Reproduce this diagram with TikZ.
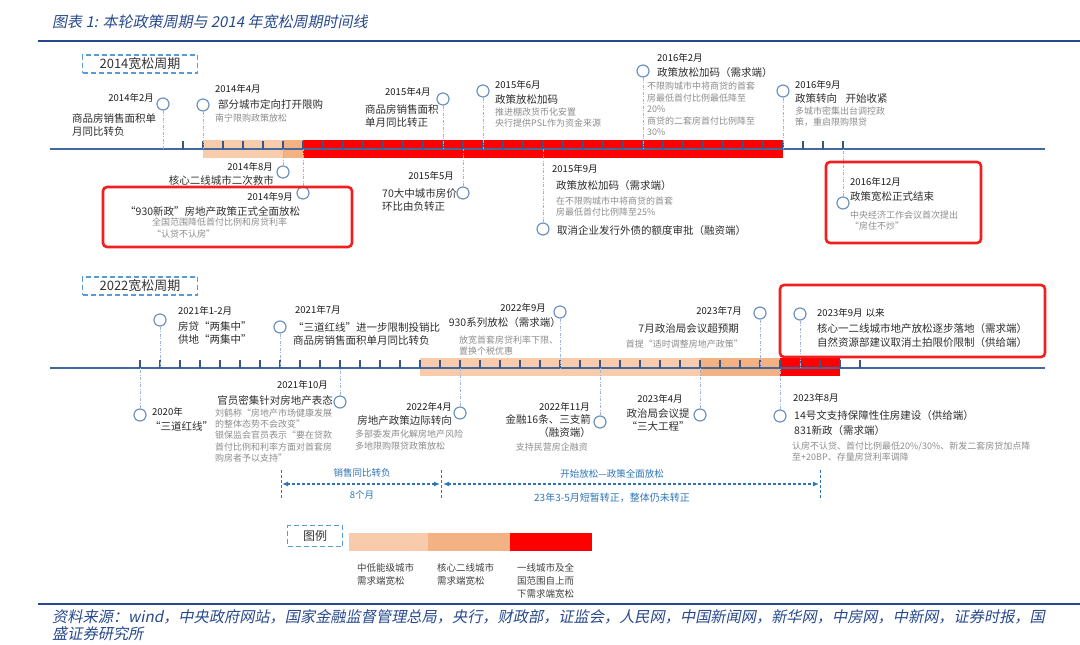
\documentclass[tikz,border=0pt]{standalone}
\usepackage{fontspec}
\setmainfont{Noto Sans CJK SC}
\newfontfamily\slantfont[FakeSlant=0.2]{Noto Sans CJK SC}
\usetikzlibrary{arrows.meta}

\definecolor{titleblue}{HTML}{27498C}
\definecolor{tlblue}{HTML}{41689F}
\definecolor{evtblue}{HTML}{6F93C0}
\definecolor{linkblue}{HTML}{9DB5D8}
\definecolor{boxblue}{HTML}{5B9BD5}
\definecolor{arrblue}{HTML}{2E75B6}
\definecolor{subgray}{HTML}{8C8C8C}
\definecolor{lowpeach}{HTML}{F8CBAD}
\definecolor{midpeach}{HTML}{F4B183}
\definecolor{hotfill}{HTML}{FF0000}
\definecolor{hotred}{HTML}{F02020}

\tikzset{
  evt/.style={circle, draw=evtblue, fill=white, line width=1.2pt, minimum size=12pt, inner sep=0pt},
  stem/.style={draw=linkblue, line width=0.8pt, dash pattern=on 3pt off 1.5pt on 1pt off 1.5pt},
  timeline/.style={draw=tlblue, line width=1.4pt},
  tickmark/.style={draw=tlblue!85!black, line width=1.3pt},
  datetxt/.style={inner sep=0pt, text=black!90, font=\fontsize{9.5}{11}\selectfont},
  bodytxt/.style={inner sep=0pt, text=black!82, align=left, font=\fontsize{10.5}{13}\selectfont},
  subtxt/.style={inner sep=0pt, text=subgray, align=left, font=\fontsize{9}{11.3}\selectfont},
  hotbox/.style={draw=hotred, line width=2.6pt, rounded corners=4pt},
  cyclebox/.style={draw=boxblue, line width=1.6pt, dash pattern=on 5pt off 3pt, minimum width=115pt, minimum height=18pt, inner sep=0pt, text=black!80, font=\fontsize{13}{15}\selectfont},
  spanarrow/.style={draw=arrblue, line width=1.4pt, dash pattern=on 3pt off 2pt, {Latex[length=6pt,width=5pt]}-{Latex[length=6pt,width=5pt]}},
  spanedge/.style={draw=arrblue, line width=1pt, dash pattern=on 3pt off 2pt},
  spantxt/.style={inner sep=0pt, text=arrblue, font=\fontsize{9.5}{11}\selectfont},
  legtxt/.style={inner sep=0pt, text=black!75, align=left, font=\fontsize{9.5}{12.8}\selectfont},
  titletxt/.style={inner sep=0pt, text=titleblue, font=\slantfont\fontsize{15}{18}\selectfont},
  foottxt/.style={inner sep=0pt, text=titleblue, align=left, font=\slantfont\fontsize{15.2}{17}\selectfont}
}

\begin{document}
\begin{tikzpicture}[x=1pt, y=-1pt]
\useasboundingbox (0,0) rectangle (1080,645);

% Title
\node[titletxt, anchor=west] (title) at (52,22) {图表 1: 本轮政策周期与 2014 年宽松周期时间线};
\draw[titleblue, line width=1.8pt] (38,41) -- (1080,41);

% ===== 2014 cycle =====
\node[cyclebox] (cyc14) at (140,64) {2014宽松周期};

% Bands and axis
\fill[lowpeach] (203,140) rectangle (283,158);
\fill[midpeach] (283,140) rectangle (303,158);
\fill[hotfill] (303,140) rectangle (783,158);
\coordinate (ax14) at (50,149);
\draw[timeline] (ax14) -- (1045,149);
\foreach \n in {3,...,36}
  \draw[tickmark] ({123+20*\n},149) -- ++(0,-8);

% Events
\node[evt] (feb14) at (163,104) {};
\node[evt] (apr14) at (203,105) {};
\node[evt] (aug14) at (283,172) {};
\node[evt] (sep14) at (303,193) {};
\node[evt] (apr15) at (443,99) {};
\node[evt] (may15) at (463,193) {};
\node[evt] (jun15) at (483,91) {};
\node[evt] (sep15) at (543,229) {};
\node[evt] (feb16) at (643,71) {};
\node[evt] (sep16) at (783,91) {};
\node[evt] (dec16) at (843,203) {};
\foreach \e in {feb14,apr14,aug14,sep14,apr15,may15,jun15,sep15,feb16,sep16,dec16}
  \draw[stem] (\e) -- (\e |- ax14);

% Texts
\node[datetxt, anchor=east] (feb14-date) at (154,98) {2014年2月};
\node[bodytxt, anchor=west] (feb14-text) at (72,124.5) {商品房销售面积单\\月同比转负};

\node[datetxt, anchor=west] (apr14-date) at (215,89) {2014年4月};
\node[bodytxt, anchor=west] (apr14-text) at (218,104) {部分城市定向打开限购};
\node[subtxt, anchor=west] (apr14-note) at (215,118) {南宁限购政策放松};

\node[datetxt, anchor=east] (aug14-date) at (273,167) {2014年8月};
\node[bodytxt, anchor=east] (aug14-text) at (274,180) {核心二线城市二次救市};

\node[datetxt, anchor=east] (sep14-date) at (293,197) {2014年9月};
\node[bodytxt, anchor=west] (sep14-text) at (125,211) {“930新政”房地产政策正式全面放松};
\node[subtxt, anchor=west] (sep14-note) at (152,228) {全国范围降低首付比例和房贷利率\\“认贷不认房”};
\draw[hotbox] (103,187) rectangle (352,247);

\node[datetxt, anchor=west] (apr15-date) at (385,92) {2015年4月};
\node[bodytxt, anchor=west] (apr15-text) at (365,115.5) {商品房销售面积\\单月同比转正};

\node[datetxt, anchor=east] (may15-date) at (454,176) {2015年5月};
\node[bodytxt, anchor=west] (may15-text) at (382,200) {70大中城市房价\\环比由负转正};

\node[datetxt, anchor=west] (jun15-date) at (495,85) {2015年6月};
\node[bodytxt, anchor=west] (jun15-text) at (495,99) {政策放松加码};
\node[subtxt, anchor=west] (jun15-note) at (495,117.5) {推进棚改货币化安置\\央行提供PSL作为资金来源};

\node[datetxt, anchor=west] (sep15-date) at (552,169) {2015年9月};
\node[bodytxt, anchor=west] (sep15-text) at (556,186) {政策放松加码（需求端）};
\node[subtxt, anchor=west] (sep15-note) at (556,206.5) {在不限购城市中将商贷的首套\\房最低首付比例降至25\%};
\node[bodytxt, anchor=west] (sep15-extra) at (557,231) {取消企业发行外债的额度审批（融资端）};

\node[datetxt, anchor=west] (feb16-date) at (657,58) {2016年2月};
\node[bodytxt, anchor=west] (feb16-text) at (657,73) {政策放松加码（需求端）};
\node[subtxt, anchor=west, font=\fontsize{9}{11.5}\selectfont] (feb16-note) at (647,109) {不限购城市中将商贷的首套\\房最低首付比例最低降至\\20\%\\商贷的二套房首付比例降至\\30\%};

\node[datetxt, anchor=west] (sep16-date) at (795,85) {2016年9月};
\node[bodytxt, anchor=west] (sep16-text) at (795,99) {政策转向\hspace{0.8em}开始收紧};
\node[subtxt, anchor=west] (sep16-note) at (795,116.5) {多城市密集出台调控政\\策，重启限购限贷};

\node[datetxt, anchor=west] (dec16-date) at (850,182) {2016年12月};
\node[bodytxt, anchor=west] (dec16-text) at (850,197) {政策宽松正式结束};
\node[subtxt, anchor=west] (dec16-note) at (850,220.5) {中央经济工作会议首次提出\\“房住不炒”};
\draw[hotbox] (826,162) rectangle (981,243);

% ===== 2022 cycle =====
\node[cyclebox] (cyc22) at (140,286) {2022宽松周期};

% Bands and axis
\fill[lowpeach] (420,358) rectangle (700,376);
\fill[midpeach] (700,358) rectangle (780,376);
\fill[hotfill] (780,358) rectangle (840,376);
\coordinate (ax22) at (50,368);
\draw[timeline] (ax22) -- (1045,368);
\foreach \k in {-1,...,35}
  \draw[tickmark] ({160+20*\k},368) -- ++(0,-8);

% Events
\node[evt] (y20) at (140,415) {};
\node[evt] (feb21) at (160,320) {};
\node[evt] (jul21) at (280,327) {};
\node[evt] (oct21) at (340,402) {};
\node[evt] (apr22) at (460,413) {};
\node[evt] (sep22) at (560,312) {};
\node[evt] (nov22) at (600,422) {};
\node[evt] (apr23) at (700,415) {};
\node[evt] (jul23) at (760,313) {};
\node[evt] (aug23) at (780,416) {};
\node[evt] (sep23) at (800,314) {};
\foreach \e in {y20,feb21,jul21,oct21,apr22,sep22,nov22,apr23,jul23,aug23,sep23}
  \draw[stem] (\e) -- (\e |- ax22);

% Texts
\node[datetxt, anchor=west] (y20-date) at (152,412) {2020年};
\node[bodytxt, anchor=west] (y20-text) at (150,426) {“三道红线”};

\node[datetxt, anchor=west] (feb21-date) at (178,311) {2021年1-2月};
\node[bodytxt, anchor=west] (feb21-text) at (178,332.5) {房贷“两集中”\\供地“两集中”};

\node[datetxt, anchor=west] (jul21-date) at (295,310) {2021年7月};
\node[bodytxt, anchor=west] (jul21-text) at (293,333.5) {“三道红线”进一步限制投销比\\商品房销售面积单月同比转负};

\node[datetxt, anchor=east] (oct21-date) at (328,385) {2021年10月};
\node[bodytxt, anchor=east] (oct21-text) at (333,400) {官员密集针对房地产表态};
\node[subtxt, anchor=west] (oct21-note) at (215,435.5) {刘鹤称“房地产市场健康发展\\的整体态势不会改变”\\银保监会官员表示“要在贷款\\首付比例和利率方面对首套房\\购房者予以支持”};

\node[datetxt, anchor=east] (apr22-date) at (452,407) {2022年4月};
\node[bodytxt, anchor=east] (apr22-text) at (452,421) {房地产政策边际转向};
\node[subtxt, anchor=west] (apr22-note) at (355,440) {多部委发声化解房地产风险\\多地限购限贷政策放松};

\node[datetxt, anchor=east] (sep22-date) at (546,308) {2022年9月};
\node[bodytxt, anchor=east] (sep22-text) at (561,323) {930系列放松（需求端）};
\node[subtxt, anchor=west] (sep22-note) at (459,345.5) {放宽首套房贷利率下限、\\置换个税优惠};

\node[datetxt, anchor=east] (nov22-date) at (590,407) {2022年11月};
\node[bodytxt, anchor=east, align=right] (nov22-text) at (591,426.5) {金融16条、三支箭\\（融资端）};
\node[subtxt, anchor=east] (nov22-note) at (588,447) {支持民营房企融资};

\node[datetxt] (apr23-date) at (660,399) {2023年4月};
\node[bodytxt, align=center, font=\fontsize{10.5}{13.5}\selectfont] (apr23-text) at (658,420) {政治局会议提\\“三大工程”};

\node[datetxt, anchor=east] (jul23-date) at (742,311) {2023年7月};
\node[bodytxt, anchor=east] (jul23-text) at (739,329) {7月政治局会议超预期};
\node[subtxt, anchor=east] (jul23-note) at (743,344) {首提“适时调整房地产政策”};

\node[datetxt, anchor=west] (aug23-date) at (793,398) {2023年8月};
\node[bodytxt, anchor=west, font=\fontsize{10.5}{15}\selectfont] (aug23-text) at (794,423.5) {14号文支持保障性住房建设（供给端）\\831新政（需求端）};
\node[subtxt, anchor=west] (aug23-note) at (792,451.5) {认房不认贷、首付比例最低20\%/30\%、新发二套房贷加点降\\至+20BP、存量房贷利率调降};

\node[datetxt, anchor=west] (sep23-date) at (817,313) {2023年9月\hspace{3pt}以来};
\node[bodytxt, anchor=west, font=\fontsize{10.5}{14}\selectfont] (sep23-text) at (817,336) {核心一二线城市地产放松逐步落地（需求端）\\自然资源部建议取消土拍限价限制（供给端）};
\draw[hotbox] (780,285) rectangle (1045,357);

% Spans below the 2022 axis
\coordinate (cut1a) at (281,470); \coordinate (cut1b) at (281,500);
\coordinate (cut2a) at (441,470); \coordinate (cut2b) at (441,500);
\coordinate (cut3a) at (820,470); \coordinate (cut3b) at (820,500);
\draw[spanedge] (cut1a) -- (cut1b);
\draw[spanedge] (cut2a) -- (cut2b);
\draw[spanedge] (cut3a) -- (cut3b);
\coordinate (sp1a) at (282,484); \coordinate (sp1b) at (440,484);
\coordinate (sp2a) at (443,484); \coordinate (sp2b) at (819,484);
\draw[spanarrow] (sp1a) -- (sp1b);
\draw[spanarrow] (sp2a) -- (sp2b);
\node[spantxt] (sp1-top) at (362,473) {销售同比转负};
\node[spantxt] (sp1-bot) at (362,495) {8个月};
\node[spantxt] (sp2-top) at (612,474) {开始放松—政策全面放松};
\node[spantxt, font=\fontsize{10}{12}\selectfont] (sp2-bot) at (612,498) {23年3-5月短暂转正，整体仍未转正};

% Legend
\node[cyclebox, minimum width=55pt, minimum height=21pt, font=\fontsize{12}{14}\selectfont] (legend) at (315,536) {图例};
\fill[lowpeach] (349,533) rectangle (428,551);
\fill[midpeach] (428,533) rectangle (510,551);
\fill[hotfill] (510,533) rectangle (592,551);
\node[legtxt, anchor=west] (leg-low) at (357,574.5) {中低能级城市\\需求端宽松};
\node[legtxt, anchor=west] (leg-mid) at (437,574.5) {核心二线城市\\需求端宽松};
\node[legtxt, anchor=west] (leg-top) at (517,581) {一线城市及全\\国范围自上而\\下需求端宽松};

% Footer
\draw[titleblue, line width=2pt] (38,604) -- (1080,604);
\node[foottxt, anchor=north west] (source) at (52,609) {资料来源：wind，中央政府网站，国家金融监督管理总局，央行，财政部，证监会，人民网，中国新闻网，新华网，中房网，中新网，证券时报，国\\盛证券研究所};
\end{tikzpicture}
\end{document}
